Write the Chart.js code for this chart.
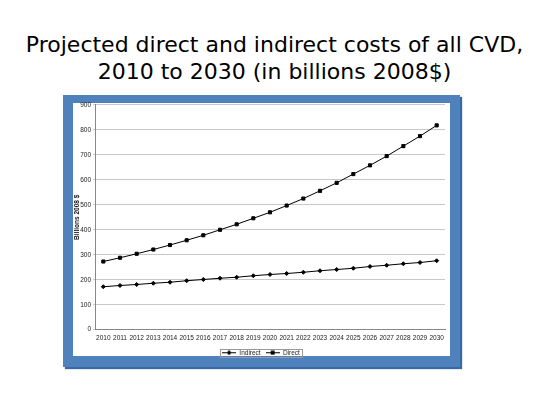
<!DOCTYPE html>
<html lang="en">
  <head>
    <title>CVD costs</title>
    <meta charset="UTF-8" />
    <script src="https://cdn.jsdelivr.net/npm/chart.js"></script>
    <style>
      body { margin: 0; width: 549px; height: 395px; background: #fff; position: relative; overflow: hidden; }
      #title {
        position: absolute; left: 0; top: 31px; width: 549px; text-align: center;
        font-family: "DejaVu Sans", Verdana, sans-serif; font-size: 22px; line-height: 27px; color: #000;
      }
      #frame {
        position: absolute; left: 63px; top: 95px; width: 377px; height: 253px;
        border: 10px solid #4f81bd; border-top-width: 8px; border-bottom-width: 11px;
        box-shadow: 2px 2px 1px #3b6aa3; background: #fff;
      }
      #wrap { position: absolute; left: 0; top: -4px; width: 377px; height: 267px; }
    </style>
  </head>
  <body>
    <div id="title">Projected direct and indirect costs of all CVD,<br />2010 to 2030 (in billions 2008$)</div>
    <div id="frame">
      <div id="wrap"><canvas id="chart"></canvas></div>
    </div>

    <script>
      const years = ['2010', '2011', '2012', '2013', '2014', '2015', '2016', '2017', '2018', '2019', '2020',
        '2021', '2022', '2023', '2024', '2025', '2026', '2027', '2028', '2029', '2030'];
      // billions 2008$
      const indirect = [172, 177, 181, 186, 190, 196, 201, 206, 210, 216, 221,
        225, 230, 236, 241, 246, 253, 258, 264, 269, 276];
      const direct = [273, 288, 304, 321, 339, 358, 378, 400, 422, 446, 470,
        497, 525, 556, 588, 623, 658, 695, 735, 775, 818];

      const tickFont = { family: 'Arial, "Liberation Sans", sans-serif', size: 6.5 };

      // little line + marker images for the legend
      function legendMark(kind) {
        const c = document.createElement('canvas');
        c.width = 14;
        c.height = 5;
        const g = c.getContext('2d');
        g.fillStyle = '#000';
        g.fillRect(0, 2, 14, 1);
        if (kind === 'diamond') {
          g.beginPath();
          g.moveTo(7, 0); g.lineTo(9.5, 2.5); g.lineTo(7, 5); g.lineTo(4.5, 2.5);
          g.closePath();
          g.fill();
        } else {
          g.fillRect(5, 0.5, 4, 4);
        }
        return c;
      }
      const marks = [legendMark('diamond'), legendMark('square')];

      // box round the legend
      const legendBox = {
        id: 'legendBox',
        afterDraw(chart) {
          const boxes = chart.legend.legendHitBoxes;
          if (!boxes || !boxes.length) return;
          const l = Math.min(...boxes.map(b => b.left)) - 2;
          const r = Math.max(...boxes.map(b => b.left + b.width)) + 2;
          const t = Math.min(...boxes.map(b => b.top)) - 1;
          const b = Math.max(...boxes.map(b => b.top + b.height)) + 1;
          const ctx = chart.ctx;
          ctx.save();
          ctx.strokeStyle = '#999';
          ctx.lineWidth = 1;
          ctx.strokeRect(Math.round(l) + 0.5, Math.round(t) + 0.5, Math.round(r - l), Math.round(b - t));
          ctx.restore();
        }
      };

      const ctx = document.getElementById('chart').getContext('2d');
      new Chart(ctx, {
        type: 'line',
        data: {
          labels: years,
          datasets: [
            {
              label: 'Indirect',
              data: indirect,
              borderColor: '#000',
              backgroundColor: '#000',
              borderWidth: 1,
              pointStyle: 'rectRot',
              pointRadius: 2,
              tension: 0,
            },
            {
              label: 'Direct',
              data: direct,
              borderColor: '#000',
              backgroundColor: '#000',
              borderWidth: 1,
              pointStyle: 'rect',
              pointRadius: 2.2,
              tension: 0,
            },
          ],
        },
        options: {
          responsive: true,
          maintainAspectRatio: false,
          animation: false,
          layout: { padding: { top: 0, right: 1, left: 0, bottom: 0 } },
          plugins: {
            legend: {
              position: 'bottom',
              labels: {
                font: tickFont,
                color: '#222',
                padding: 5,
                usePointStyle: true,
                pointStyleWidth: 14,
                generateLabels(chart) {
                  return chart.data.datasets.map((ds, i) => ({
                    text: ds.label,
                    pointStyle: marks[i],
                    fillStyle: '#000',
                    strokeStyle: '#000',
                    lineWidth: 0,
                    fontColor: '#222',
                    datasetIndex: i,
                    hidden: false,
                  }));
                },
              },
            },
            tooltip: { enabled: false },
          },
          scales: {
            x: {
              offset: true,
              grid: { display: false, drawTicks: true, tickLength: 3 },
              border: { color: '#888' },
              ticks: { font: tickFont, color: '#222', maxRotation: 0, autoSkip: false, padding: 2 },
            },
            y: {
              min: 0,
              max: 900,
              afterFit(scale) { scale.width = 22; },
              ticks: { stepSize: 100, font: tickFont, color: '#222', padding: 2 },
              grid: { color: '#c8c8c8', tickLength: 2 },
              border: { color: '#888' },
              title: {
                display: true,
                text: 'Billions 2008 $',
                font: { family: 'Arial, "Liberation Sans", sans-serif', size: 6.5, weight: 'bold' },
                color: '#111',
                padding: 0,
              },
            },
          },
        },
        plugins: [legendBox],
      });
    </script>
  </body>
</html>
